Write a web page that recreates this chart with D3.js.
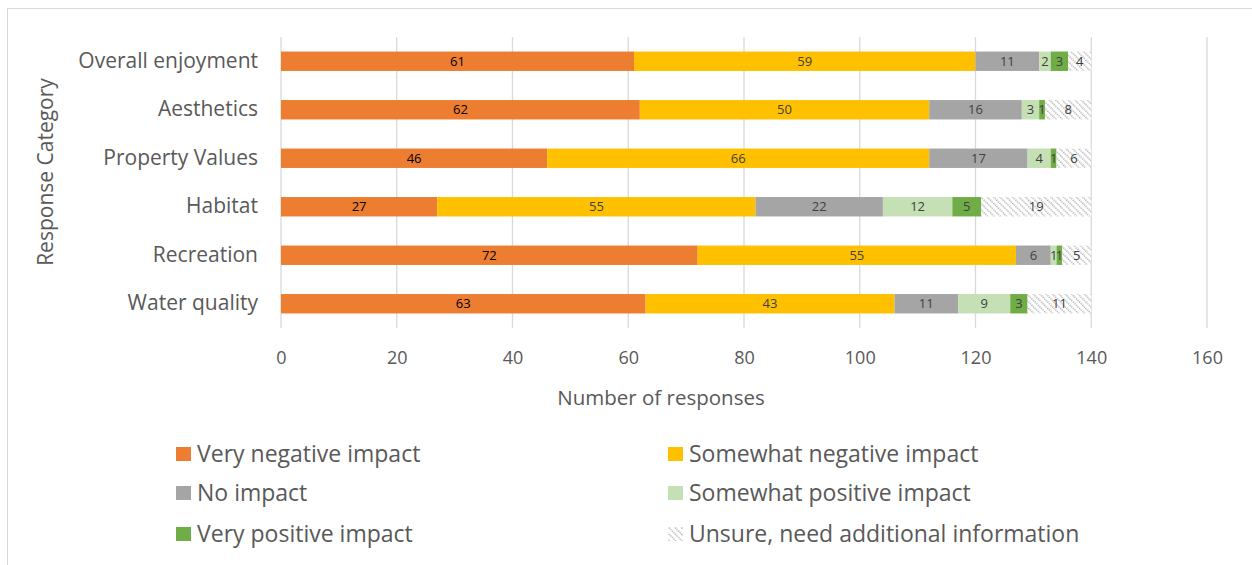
<!DOCTYPE html>
<html><head><meta charset="utf-8">
<script src="https://cdn.jsdelivr.net/npm/d3@7"></script>
<style>body{margin:0;background:#fff;}svg{display:block;font-family:'Open Sans',sans-serif;}</style>
</head><body>
<svg id="c" width="1252" height="565"></svg>
<script>
const categories = ["Overall enjoyment","Aesthetics","Property Values","Habitat","Recreation","Water quality"];
const seriesNames = ["Very negative impact","Somewhat negative impact","No impact","Somewhat positive impact","Very positive impact","Unsure, need additional information"];
const veryNegative = [61,62,46,27,72,63];
const somewhatNegative = [59,50,66,55,55,43];
const noImpact = [11,16,17,22,6,11];
const somewhatPositive = [2,3,4,12,1,9];
const veryPositive = [3,1,1,5,1,3];
const unsure = [4,8,6,19,5,11];
const xTicks = [0,20,40,60,80,100,120,140,160];

const series = [veryNegative,somewhatNegative,noImpact,somewhatPositive,veryPositive,unsure];
const colors = ["#ED7D31","#FFC000","#A5A5A5","#C5E0B4","#70AD47","url(#hatch)"];
const labelColors = ["#000","#404040","#404040","#404040","#404040","#404040"];
const FONT = "'Open Sans',sans-serif";

const svg = d3.select("#c");
const defs = svg.append("defs");
const pat = defs.append("pattern").attr("id","hatch").attr("patternUnits","userSpaceOnUse")
  .attr("width",4.5).attr("height",4.5).attr("patternTransform","rotate(-45)");
pat.append("rect").attr("width",4.5).attr("height",4.5).attr("fill","#fff");
pat.append("line").attr("x1",0.8).attr("y1",0).attr("x2",0.8).attr("y2",4.5)
  .attr("stroke","#9a9a9a").attr("stroke-width",1.3).attr("stroke-dasharray","1.2,1.05");

// outer border
svg.append("rect").attr("x",7.5).attr("y",8.5).attr("width",1260).attr("height",570)
  .attr("fill","none").attr("stroke","#d9d9d9");

const x = d3.scaleLinear().domain([0,160]).range([281,1207]);
const y = d3.scaleBand().domain(categories).range([37,328]).paddingInner(0.6).paddingOuter(0.3);

// gridlines
svg.append("g").selectAll("line").data(xTicks).join("line")
  .attr("x1",d=>x(d)).attr("x2",d=>x(d)).attr("y1",37).attr("y2",328)
  .attr("stroke","#d9d9d9").attr("stroke-width",1.3);

// x axis labels
const xAxis = d3.axisBottom(x).tickValues(xTicks).tickSize(0).tickPadding(0);
const gx = svg.append("g").attr("transform","translate(0,351)").call(xAxis);
gx.select(".domain").remove();
gx.selectAll("text").attr("font-size",18).attr("fill","#595959").attr("font-family",FONT);

// y axis labels
const yAxis = d3.axisLeft(y).tickSize(0).tickPadding(23);
const gy = svg.append("g").attr("transform","translate(281,0)").call(yAxis);
gy.select(".domain").remove();
gy.selectAll("text").attr("font-size",21).attr("fill","#595959").attr("font-family",FONT);

// stacked bars
const rows = categories.map((c,i)=>{
  const o={cat:c}; seriesNames.forEach((s,j)=>o[s]=series[j][i]); return o;
});
const stack = d3.stack().keys(seriesNames)(rows);
stack.forEach((layer,j)=>{
  const g = svg.append("g");
  g.selectAll("rect").data(layer).join("rect")
    .attr("x",d=>x(d[0])).attr("width",d=>x(d[1])-x(d[0]))
    .attr("y",d=>y(d.data.cat)).attr("height",y.bandwidth())
    .attr("fill",colors[j]);
  g.selectAll("text").data(layer).join("text")
    .attr("x",d=>(x(d[0])+x(d[1]))/2).attr("y",d=>y(d.data.cat)+y.bandwidth()/2)
    .attr("dy","0.36em").attr("text-anchor","middle").attr("font-size",13)
    .attr("fill",labelColors[j]).text(d=>d[1]-d[0]);
});

// axis titles
svg.append("text").attr("x",661).attr("y",405).attr("text-anchor","middle")
  .attr("font-size",20.5).attr("fill","#595959").text("Number of responses");
svg.append("text").attr("transform","translate(53,172) rotate(-90)").attr("text-anchor","middle")
  .attr("font-size",21).attr("fill","#595959").text("Response Category");

// legend
const legPos = [[176,454],[668,454],[176,493],[668,493],[176,534],[668,534]];
seriesNames.forEach((s,j)=>{
  const [lx,ly]=legPos[j];
  svg.append("rect").attr("x",lx).attr("y",ly-7).attr("width",15).attr("height",14).attr("fill",colors[j]);
  svg.append("text").attr("x",lx+21).attr("y",ly).attr("dy","0.36em").attr("font-size",23)
    .attr("fill","#595959").text(s);
});
</script>
</body></html>
